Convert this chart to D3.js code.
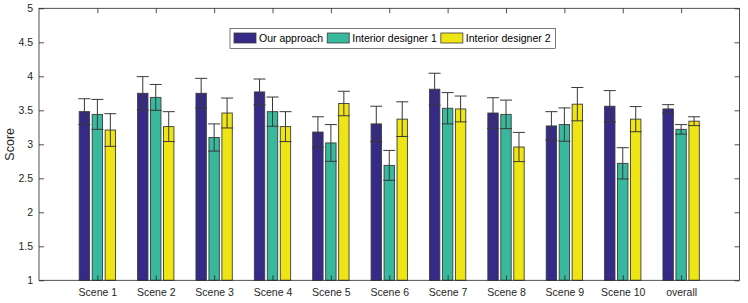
<!DOCTYPE html>
<html>
<head>
<meta charset="utf-8">
<script src="https://cdn.jsdelivr.net/npm/d3@7"></script>
<style>
    body { margin: 0; background: #fff; }
    svg { display: block; font-family: "Liberation Sans", Arial, sans-serif; }
</style>
</head>
<body>
<div id="chart"></div>
<script>
var categories = ["Scene 1", "Scene 2", "Scene 3", "Scene 4", "Scene 5", "Scene 6",
    "Scene 7", "Scene 8", "Scene 9", "Scene 10", "overall"];
var seriesNames = ["Our approach", "Interior designer 1", "Interior designer 2"];

var ourApproach = [3.48, 3.75, 3.75, 3.77, 3.18, 3.30, 3.81, 3.46, 3.27, 3.56, 3.52];
var designer1 = [3.44, 3.69, 3.10, 3.48, 3.02, 2.69, 3.53, 3.44, 3.29, 2.72, 3.22];
var designer2 = [3.21, 3.26, 3.46, 3.26, 3.60, 3.37, 3.52, 2.96, 3.59, 3.37, 3.34];

var ourErr = [0.19, 0.245, 0.22, 0.19, 0.225, 0.26, 0.235, 0.225, 0.21, 0.23, 0.063];
var d1Err = [0.22, 0.19, 0.20, 0.215, 0.27, 0.22, 0.23, 0.21, 0.245, 0.23, 0.07];
var d2Err = [0.24, 0.22, 0.22, 0.22, 0.18, 0.255, 0.19, 0.215, 0.245, 0.185, 0.065];

var yTicks = [1, 1.5, 2, 2.5, 3, 3.5, 4, 4.5, 5];
var colors = ["#352a87", "#38b89c", "#eee512"];

(function() {
    var values = [ourApproach, designer1, designer2];
    var errors = [ourErr, d1Err, d2Err];

    var width = 748, height = 303;
    var pLeft = 39, pRight = 739.5, pTop = 8.3, pBottom = 280.3;

    var svg = d3.select("#chart")
        .append("svg")
        .attr("width", width)
        .attr("height", height);

    var x = d3.scaleLinear().domain([0, categories.length + 1]).range([pLeft, pRight]);
    var y = d3.scaleLinear().domain([1, 5]).range([pBottom, pTop]);

    // MATLAB style grouped bar geometry
    var groupWidth = Math.min(0.8, 3 / (3 + 1.5));
    var step = groupWidth / 3;
    var barW = step * 0.8;

    var rows = [];
    values.forEach(function(series, s) {
        series.forEach(function(v, i) {
            rows.push({ s: s, i: i, v: v, e: errors[s][i] });
        });
    });

    function cx(d) {
        return x(d.i + 1 + (d.s - 1) * step);
    }

    svg.selectAll(".bar")
        .data(rows)
        .enter()
        .append("rect")
        .attr("class", "bar")
        .attr("x", function(d) { return x(d.i + 1 + (d.s - 1) * step - barW / 2); })
        .attr("width", function(d) { return x(barW) - x(0); })
        .attr("y", function(d) { return y(d.v); })
        .attr("height", function(d) { return y(1) - y(d.v); })
        .style("fill", function(d) { return colors[d.s]; })
        .style("stroke", "#3c3c3c")
        .style("stroke-width", 0.9);

    // error bars
    var capHalf = 6;
    var eb = svg.selectAll(".err")
        .data(rows)
        .enter()
        .append("g")
        .attr("class", "err")
        .style("stroke", "#383838")
        .style("stroke-width", 1);
    eb.append("line")
        .attr("x1", cx).attr("x2", cx)
        .attr("y1", function(d) { return y(d.v + d.e); })
        .attr("y2", function(d) { return y(d.v - d.e); });
    eb.append("line")
        .attr("x1", function(d) { return cx(d) - capHalf; })
        .attr("x2", function(d) { return cx(d) + capHalf; })
        .attr("y1", function(d) { return y(d.v + d.e); })
        .attr("y2", function(d) { return y(d.v + d.e); });
    eb.append("line")
        .attr("x1", function(d) { return cx(d) - capHalf; })
        .attr("x2", function(d) { return cx(d) + capHalf; })
        .attr("y1", function(d) { return y(d.v - d.e); })
        .attr("y2", function(d) { return y(d.v - d.e); });

    // axes, ticks pointing inward on all four sides
    var tickIdx = categories.map(function(c, i) { return i + 1; });

    svg.append("g")
        .attr("transform", "translate(0," + pBottom + ")")
        .call(d3.axisBottom(x).tickValues(tickIdx).tickSizeInner(-5).tickSizeOuter(0).tickPadding(8)
            .tickFormat(function(d) { return categories[d - 1]; }));
    svg.append("g")
        .attr("transform", "translate(0," + pTop + ")")
        .call(d3.axisTop(x).tickValues(tickIdx).tickSizeInner(-5).tickSizeOuter(0).tickFormat(""));
    svg.append("g")
        .attr("transform", "translate(" + pLeft + ",0)")
        .call(d3.axisLeft(y).tickValues(yTicks).tickSizeInner(-5).tickSizeOuter(0).tickPadding(6)
            .tickFormat(d3.format("")));
    svg.append("g")
        .attr("transform", "translate(" + pRight + ",0)")
        .call(d3.axisRight(y).tickValues(yTicks).tickSizeInner(-5).tickSizeOuter(0).tickFormat(""));

    svg.selectAll(".domain").remove();
    svg.selectAll(".tick line").style("stroke", "#262626").style("stroke-width", 0.8);
    svg.selectAll(".tick text")
        .style("font-family", "'Liberation Sans', Arial, sans-serif")
        .style("font-size", "10.5px")
        .style("fill", "#262626");

    svg.append("rect")
        .attr("x", pLeft).attr("y", pTop)
        .attr("width", pRight - pLeft).attr("height", pBottom - pTop)
        .style("fill", "none")
        .style("stroke", "#262626")
        .style("stroke-width", 0.8);

    svg.append("text")
        .attr("transform", "translate(14," + ((pTop + pBottom) / 2) + ") rotate(-90)")
        .attr("text-anchor", "middle")
        .style("font-size", "12.5px")
        .style("fill", "#262626")
        .text("Score");

    // legend
    var legend = svg.append("g").attr("class", "legend");
    var lx = 234, ly = 33, swW = 22, swH = 10;
    var legendBox = legend.append("rect")
        .style("fill", "#fff")
        .style("stroke", "#262626")
        .style("stroke-width", 0.6);
    seriesNames.forEach(function(name, s) {
        legend.append("rect")
            .attr("x", lx).attr("y", ly)
            .attr("width", swW).attr("height", swH)
            .style("fill", colors[s])
            .style("stroke", "#3c3c3c")
            .style("stroke-width", 0.8);
        var t = legend.append("text")
            .attr("x", lx + swW + 3)
            .attr("y", ly + swH - 1)
            .style("font-size", "10.5px")
            .style("fill", "#000")
            .text(name);
        lx += swW + 3 + t.node().getComputedTextLength() + 4;
    });
    legendBox
        .attr("x", 230).attr("y", 28.5)
        .attr("width", lx - 230 + 1).attr("height", 20);
})();
</script>
</body>
</html>
